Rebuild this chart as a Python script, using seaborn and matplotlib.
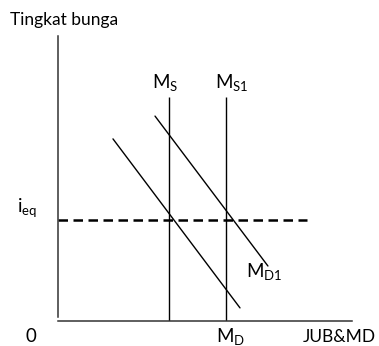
import matplotlib
matplotlib.use("Agg")
import matplotlib.pyplot as plt
import pandas as pd
import seaborn as sns

sns.set_theme(style="white")
plt.rcParams["font.family"] = ["Lato", "DejaVu Sans"]
plt.rcParams["mathtext.fontset"] = "custom"
plt.rcParams["mathtext.rm"] = "Lato"

# Money market: two money-supply levels, two money-demand curves, equilibrium rate
supply_labels = [r"$\mathregular{M_S}$", r"$\mathregular{M_{S1}}$"]
supply_qty = [3.78, 5.71]
supply_top = 7.86

demand_labels = ["MD", "MD1"]
demand_x = [[1.87, 6.19], [3.30, 7.14]]
demand_y = [[6.39, 0.46], [7.19, 1.93]]

i_eq = 3.54
i_eq_end = 8.47

rows = []
for lab, xs, ys in zip(demand_labels, demand_x, demand_y):
    for x, y in zip(xs, ys):
        rows.append({"curve": lab, "x": x, "y": y})
demand = pd.DataFrame(rows)

W, H = 379, 346
fig = plt.figure(figsize=(W / 100, H / 100), dpi=100)
ax = fig.add_axes([58 / W, 25 / H, 294 / W, 285 / H])

sns.lineplot(data=demand, x="x", y="y", units="curve", estimator=None,
             color="black", linewidth=1.0, ax=ax, legend=False)

for q in supply_qty:
    ax.vlines(q, -0.05, supply_top, color="black", linewidth=1.0)

ax.hlines(i_eq, 0, i_eq_end, color="black", linewidth=1.8,
          linestyles=(0, (3.8, 2.2)))

ax.set_xlim(0, 10)
ax.set_ylim(0, 10)
ax.set_xticks([])
ax.set_yticks([])
ax.set_xlabel("")
ax.set_ylabel("")
for s in ["top", "right"]:
    ax.spines[s].set_visible(False)
ax.spines["left"].set_bounds(0.15, 10)
for s in ["left", "bottom"]:
    ax.spines[s].set_color("#333333")
    ax.spines[s].set_linewidth(1.1)
ax.patch.set_alpha(0)

fs = 12.5
kw = dict(color="black", clip_on=False, va="baseline", ha="left", fontsize=fs)

ax.text(-1.63, 10.39, "Tingkat bunga", **kw)
ax.text(-1.12, -0.74, "0", **{**kw, "fontsize": 13.5})
ax.text(10.82, -0.74, "JUB&MD", **{**kw, "ha": "right", "fontsize": 12.5})

ax.text(-1.39, 3.82, r"$\mathregular{i_{eq}}$", **{**kw, "fontsize": 13.5})

# supply labels above the vertical lines
ax.text(3.20, 8.18, supply_labels[0], **{**kw, "fontsize": 13.5})
ax.text(5.34, 8.18, supply_labels[1], **{**kw, "fontsize": 13.5})

# demand labels
ax.text(6.40, 1.54, r"$\mathregular{M_{D1}}$", **{**kw, "fontsize": 13.5})
ax.text(5.38, -0.74, r"$\mathregular{M_D}$", **{**kw, "fontsize": 13.5})

fig.savefig("out.png", dpi=100, facecolor="white")
